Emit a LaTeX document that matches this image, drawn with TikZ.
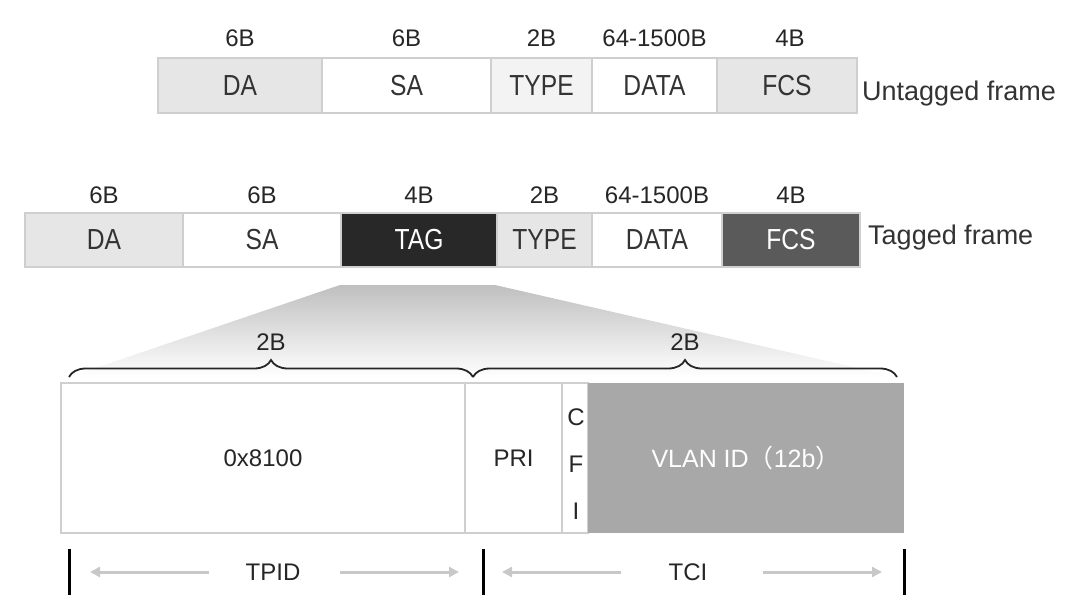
\documentclass[tikz,border=0pt]{standalone}
\usepackage{graphicx}
\usepackage{fontspec}
\setmainfont{Liberation Sans}
\newfontfamily\cjk{Noto Sans CJK SC}
\usetikzlibrary{arrows.meta,decorations.pathreplacing}
\definecolor{fieldgray}{HTML}{E6E6E6}
\definecolor{typegray}{HTML}{F3F3F3}
\definecolor{tagblack}{HTML}{282828}
\definecolor{fcsgray}{HTML}{5A5A5A}
\definecolor{vlangray}{HTML}{A8A8A8}
\definecolor{edgegray}{HTML}{CFCFCF}
\definecolor{arrowgray}{HTML}{C8C8C8}
\definecolor{textgray}{HTML}{333333}
\newcommand\sizefont{\fontsize{24}{28}\selectfont}
\newcommand\boxfont{\fontsize{29}{32}\selectfont}
\newcommand\narrow[1]{\scalebox{0.85}[1]{#1}}

\begin{document}
\begin{tikzpicture}[x=1pt, y=-1pt,
	field/.style={draw=edgegray, line width=1.5pt, inner sep=0pt, outer sep=0pt, minimum height=55pt, text=textgray, font=\boxfont},
	size/.style={inner sep=0pt, text=black!85, font=\sizefont},
	bar/.style={line width=3pt, black},
	dimarrow/.style={arrowgray, line width=3pt, -{Triangle[length=10pt,width=10pt]}},
	brace/.style={decorate, decoration={brace, amplitude=17pt}, line width=1.8pt, black!85}]
		\useasboundingbox (0,0) rectangle (1080,611);
		
		% untagged frame
		\node[field, fill=fieldgray, minimum width=164pt] (uda) at (240,85.5) {\narrow{DA}};
		\node[field, fill=white, minimum width=169pt] (usa) at (406.5,85.5) {\narrow{SA}};
		\node[field, fill=typegray, minimum width=101pt] (utype) at (541.5,85.5) {\narrow{TYPE}};
		\node[field, fill=white, minimum width=125pt] (udata) at (654.5,85.5) {\narrow{DATA}};
		\node[field, fill=fieldgray, minimum width=140pt] (ufcs) at (787,85.5) {\narrow{FCS}};
		\node[size] (udasize) at (240,38) {6B};
		\node[size] (usasize) at (406.5,38) {6B};
		\node[size] (utypesize) at (541.5,38) {2B};
		\node[size] (udatasize) at (654.5,38) {64-1500B};
		\node[size] (ufcssize) at (790,38) {4B};
		\node[anchor=west, inner sep=0pt, text=textgray, font=\fontsize{27}{30}\selectfont] (ulabel) at (862,94) {Untagged frame};
		
		% tagged frame
		\shade[top color=gray!50, bottom color=white] (340,285) -- (495,285) -- (897,377) -- (69,377) -- cycle;
		\node[field, fill=fieldgray, minimum width=158pt, minimum height=54pt] (tda) at (104,240) {\narrow{DA}};
		\node[field, fill=white, minimum width=158pt, minimum height=54pt] (tsa) at (262,240) {\narrow{SA}};
		\node[field, fill=tagblack, text=white, minimum width=156pt, minimum height=54pt] (ttag) at (419,240) {\narrow{TAG}};
		\node[field, fill=fieldgray, minimum width=95pt, minimum height=54pt] (ttype) at (544.5,240) {\narrow{TYPE}};
		\node[field, fill=white, minimum width=130pt, minimum height=54pt] (tdata) at (657,240) {\narrow{DATA}};
		\node[field, fill=fcsgray, text=white, minimum width=138pt, minimum height=54pt] (tfcs) at (791,240) {\narrow{FCS}};
		\node[size] (tdasize) at (104,195) {6B};
		\node[size] (tsasize) at (262,195) {6B};
		\node[size] (ttagsize) at (419,195) {4B};
		\node[size] (ttypesize) at (544.5,195) {2B};
		\node[size] (tdatasize) at (657,195) {64-1500B};
		\node[size] (tfcssize) at (791,195) {4B};
		\node[anchor=west, inner sep=0pt, text=textgray, font=\fontsize{27}{30}\selectfont] (tlabel) at (868,238) {Tagged frame};
		
		% tag in detail
		\coordinate (bl) at (69,377);
		\coordinate (bm) at (473,377);
		\coordinate (br) at (897,377);
		\draw[brace] (bl) -- (bm) node[midway, above=26pt, size] (tpidsize) {2B};
		\draw[brace] (bm) -- (br) node[midway, above=26pt, size] (tcisize) {2B};
		
		\node[field, fill=white, minimum width=404pt, minimum height=150pt, font=\sizefont, text=black!85] (tpid) at (263,458) {0x8100};
		\node[field, fill=white, minimum width=97pt, minimum height=150pt, font=\sizefont, text=black!85] (pri) at (513.5,458) {PRI};
		\node[field, fill=white, minimum width=26pt, minimum height=150pt] (cfi) at (575,458) {};
		\node[field, draw=none, fill=vlangray, text=white, minimum width=316pt, minimum height=150pt, font=\fontsize{25}{28}\selectfont] (vlan) at (746,458) {VLAN ID{\cjk （}12b{\cjk ）}};
		\node[size, align=center, font=\fontsize{24}{47}\selectfont] (cfitext) at (576,464) {C\\F\\I};
		
		% extent of TPID and TCI
		\coordinate (ba) at (69,572);
		\coordinate (bb) at (483,572);
		\coordinate (bc) at (904,572);
		\draw[bar] ([yshift=23pt]ba) -- ([yshift=-23pt]ba);
		\draw[bar] ([yshift=23pt]bb) -- ([yshift=-23pt]bb);
		\draw[bar] ([yshift=23pt]bc) -- ([yshift=-23pt]bc);
		\node[size] (tpidlbl) at (273,572) {TPID};
		\node[size] (tcilbl) at (688,572) {TCI};
		\draw[dimarrow, shorten <=36pt, shorten >=21pt] (tpidlbl.west) -- (ba);
		\draw[dimarrow, shorten <=39pt, shorten >=24pt] (tpidlbl.east) -- (bb);
		\draw[dimarrow, shorten <=47pt, shorten >=19pt] (tcilbl.west) -- (bb);
		\draw[dimarrow, shorten <=55pt, shorten >=22pt] (tcilbl.east) -- (bc);
		
\end{tikzpicture}
\end{document}
